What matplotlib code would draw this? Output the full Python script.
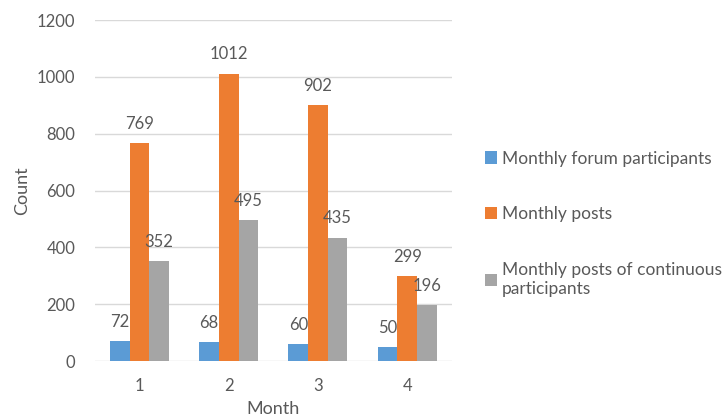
import matplotlib
matplotlib.use("Agg")
import matplotlib.pyplot as plt
import numpy as np

months = ["1", "2", "3", "4"]
participants = [72, 68, 60, 50]
posts = [769, 1012, 902, 299]
continuous_posts = [352, 495, 435, 196]
series_names = ["Monthly forum participants", "Monthly posts",
                "Monthly posts of continuous\nparticipants"]
colors = ["#5B9BD5", "#ED7D31", "#A5A5A5"]
yticks = [0, 200, 400, 600, 800, 1000, 1200]

plt.rcParams['font.family'] = ['Lato', 'DejaVu Sans']
txt = "#595959"

fig = plt.figure(figsize=(7.24, 4.19), dpi=100)
ax = fig.add_axes([0.131, 0.138, 0.493, 0.814])

x = np.arange(1, len(months) + 1)
w = 0.22
handles = []
for i, (vals, c) in enumerate(zip([participants, posts, continuous_posts], colors)):
    bars = ax.bar(x + (i - 1) * w, vals, width=w, color=c, zorder=3)
    handles.append(bars)
    for xi, v in zip(x + (i - 1) * w, vals):
        ax.annotate(str(v), (xi, v), xytext=(0, 8), textcoords="offset points",
                    ha="center", va="bottom", fontsize=12, color=txt)

ax.set_xlim(0.5, 4.5)
ax.set_ylim(0, 1200)
ax.set_yticks(yticks)
ax.set_xticks(x)
ax.set_xticklabels(months)
ax.yaxis.grid(True, color="#D9D9D9", linewidth=1, zorder=0)
for s in ax.spines.values():
    s.set_visible(False)
ax.tick_params(axis="both", length=0, labelsize=12, colors=txt, pad=14)
ax.tick_params(axis="x", pad=12)
ax.set_xlabel("Month", fontsize=13, color=txt, labelpad=5)
ax.set_ylabel("Count", fontsize=13, color=txt, labelpad=5)

leg = fig.legend(handles, series_names, loc="upper left", bbox_to_anchor=(0.648, 0.678),
                 frameon=False, fontsize=12.5, labelcolor=txt, handlelength=0.7,
                 handleheight=0.7, handletextpad=0.3, labelspacing=2.3)

fig.savefig("out.png", dpi=100)
